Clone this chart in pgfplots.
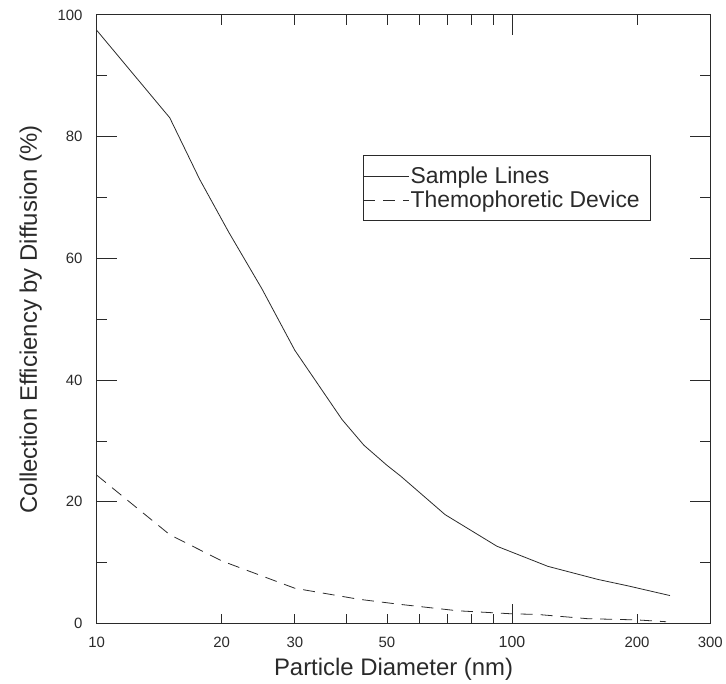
\documentclass[border=0pt]{standalone}
\usepackage{pgfplots}
\pgfplotsset{compat=1.18}
\usepackage{fontspec}
\setmainfont{Liberation Sans}
\definecolor{ink}{HTML}{2A2A2A}
\begin{document}
\begin{tikzpicture}
\begin{semilogxaxis}[
  scale only axis, width=616pt, height=611pt,
  xmin=10, xmax=300, ymin=0, ymax=100,
  axis line style={ink, line width=1.1pt},
  every tick/.style={ink, line width=0.9pt},
  major tick length=20pt, minor tick length=10pt,
  xtick={10,100}, xticklabels={10,{\fontsize{16}{16}\selectfont 100}},
  minor xtick={40,60,70,80,90},
  extra x ticks={20,30,50,200,300},
  extra x tick labels={20,30,50,200,300},
  extra x tick style={major tick length=10pt},
  ytick={0,20,40,60,80,100}, yticklabels={0,20,40,60,80,100},
  minor ytick={10,30,50,70,90},
  xticklabel style={font=\fontsize{15}{15}\selectfont, anchor=base, yshift=-24pt, text=ink},
  yticklabel style={font=\fontsize{15}{15}\selectfont, anchor=east, inner sep=0pt, xshift=-14pt, text=ink},
  every axis x label/.style={at={(axis description cs:0.484,0)}, anchor=base, yshift=-52pt},
  every axis y label/.style={at={(axis description cs:-0.0974,0.5)}, anchor=base, rotate=90},
  label style={font=\fontsize{24}{24}\selectfont, text=ink},
  xlabel={Particle Diameter (nm)},
  ylabel={Collection Efficiency by Diffusion (\%)},
  legend style={at={(rel axis cs:0.4334,0.7692)}, anchor=north west, draw=ink, line width=0.8pt,
    font=\fontsize{23}{26}\selectfont, inner xsep=0pt, inner ysep=10pt, row sep=3pt,
    nodes={inner sep=1.5pt, text=ink}, cells={anchor=west}},
  legend image code/.code={\draw[#1] (-1.5pt,0pt) -- (44pt,0pt);},
]
\addplot[ink, line width=0.8pt] coordinates {
(10,97.5) (15,83.1) (17.7,73) (20.8,64.3) (25,55) (30,44.9) (39,33.5) (44,29.3)
(50,26) (54,24.2) (69,17.9) (92,12.7) (122,9.4) (161,7.25) (190,6.2) (240,4.6)};
\addlegendentry{Sample Lines}
\addplot[ink, line width=0.8pt, dash pattern=on 12pt off 8pt] coordinates {
(10,24.4) (12.5,19) (15,14.6) (20,10.3) (30,5.8) (42.7,4.0) (53,3.2) (74,2.1)
(100,1.6) (115,1.5) (152,0.8) (200,0.6) (235,0.3)};
\addlegendentry{Themophoretic Device\hspace*{9pt}}
\end{semilogxaxis}
\path (current axis.south west) ++(-97pt,-58pt) rectangle ++(726pt,684pt);
\end{tikzpicture}
\end{document}
